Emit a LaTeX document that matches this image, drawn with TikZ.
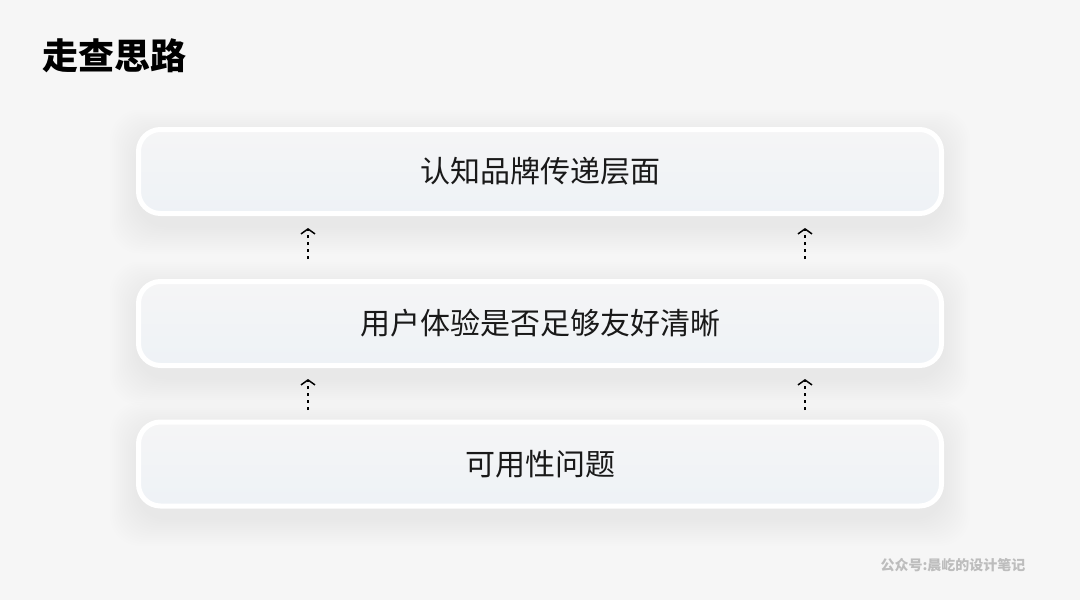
\documentclass[tikz,border=0pt]{standalone}
\usepackage{fontspec}
\newfontfamily\cjk{Noto Sans CJK SC}
\usetikzlibrary{arrows.meta,calc}
\definecolor{bg}{HTML}{F6F6F6}
\definecolor{boxtop}{HTML}{F5F5F6}
\definecolor{boxbot}{HTML}{EEF2F6}
\definecolor{mark}{HTML}{BDBDBD}
\tikzset{
  card/.style={rounded corners=22pt, draw=white, line width=5pt, top color=boxtop, bottom color=boxbot,
     minimum width=803pt, minimum height=84pt, font=\cjk\fontsize{30}{36}\selectfont, text=black!90},
  uparrow/.style={line width=1.3pt, dash pattern=on 3.5pt off 3.5pt,
     -{Straight Barb[length=5pt,width=14pt,line width=1.5pt]}},
}
\begin{document}
\begin{tikzpicture}[x=1pt,y=-1pt]
\fill[bg] (0,0) rectangle (1080,600);
\useasboundingbox (0,0) rectangle (1080,600);
% shadows
\foreach \cy in {171.5,323.5,464}{
  \foreach \i in {1,...,14}{
    \fill[black, opacity=0.0045, rounded corners=30pt]
      ($(540,\cy)+(-402-2*\i,-44-2*\i+10)$) rectangle ($(540,\cy)+(402+2*\i,44+2*\i+10)$);
  }
}
\node[anchor=west, font=\cjk\bfseries\fontsize{36}{42}\selectfont] (title) at (39,56) {走查思路};
\node[card] (b1) at (540,171.5) {认知品牌传递层面};
\node[card] (b2) at (540,323.5) {用户体验是否足够友好清晰};
\node[card] (b3) at (540,464) {可用性问题};
\coordinate (a1s) at (308,259); \coordinate (a1e) at (308,228);
\coordinate (a2s) at (805,259); \coordinate (a2e) at (805,228);
\coordinate (a3s) at (308,410); \coordinate (a3e) at (308,379);
\coordinate (a4s) at (805,410); \coordinate (a4e) at (805,379);
\draw[uparrow] (a1s) -- (a1e);
\draw[uparrow] (a2s) -- (a2e);
\draw[uparrow] (a3s) -- (a3e);
\draw[uparrow] (a4s) -- (a4e);
\node[anchor=east, font=\cjk\bfseries\fontsize{14}{16}\selectfont, text=mark] (wm) at (1029,565) {公众号:晨屹的设计笔记};
\end{tikzpicture}
\end{document}
